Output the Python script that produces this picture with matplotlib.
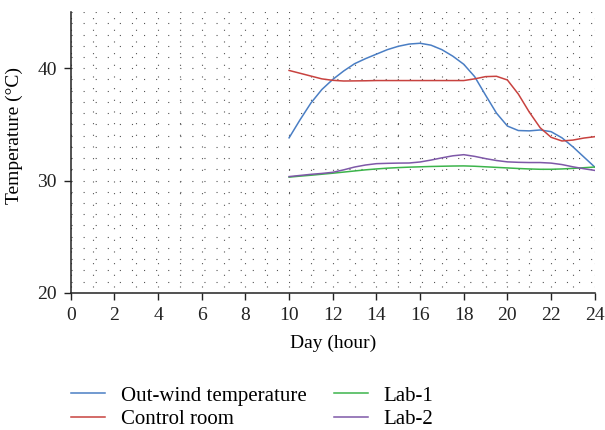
import matplotlib
matplotlib.use('Agg')
import matplotlib.pyplot as plt
from matplotlib.ticker import MultipleLocator

plt.rcParams['font.family'] = ['Liberation Serif', 'DejaVu Serif']
plt.rcParams['lines.scale_dashes'] = False

# valores (a cada meia hora)
horas = [10, 10.5, 11, 11.5, 12, 12.5, 13, 13.5, 14, 14.5, 15, 15.5, 16, 16.5, 17,
         17.5, 18, 18.5, 19, 19.5, 20, 20.5, 21, 21.5, 22, 22.5, 23, 23.5, 24]
out_wind = [33.8, 35.4, 36.9, 38.1, 39.0, 39.75, 40.4, 40.85, 41.25, 41.65, 41.95, 42.15, 42.22, 42.05, 41.65,
            41.07, 40.35, 39.25, 37.6, 36.0, 34.85, 34.45, 34.42, 34.5, 34.35, 33.8, 33.0, 32.1, 31.2]
control = [39.8, 39.55, 39.3, 39.05, 38.92, 38.86, 38.87, 38.88, 38.9, 38.9, 38.9, 38.9, 38.9, 38.9, 38.9,
           38.9, 38.9, 39.05, 39.25, 39.28, 38.95, 37.7, 36.1, 34.7, 33.85, 33.52, 33.6, 33.78, 33.9]
lab1 = [30.3, 30.39, 30.47, 30.56, 30.65, 30.75, 30.85, 30.95, 31.03, 31.1, 31.15, 31.19, 31.22, 31.25, 31.27,
        31.29, 31.3, 31.27, 31.22, 31.17, 31.12, 31.07, 31.03, 31.0, 31.0, 31.03, 31.08, 31.14, 31.2]
lab2 = [30.35, 30.45, 30.55, 30.63, 30.73, 30.95, 31.2, 31.38, 31.5, 31.53, 31.55, 31.56, 31.65, 31.82, 32.02,
        32.2, 32.3, 32.15, 31.95, 31.78, 31.66, 31.62, 31.6, 31.6, 31.55, 31.42, 31.22, 31.05, 30.9]

cores = ['#4a7ec4', '#c8423f', '#3cb44b', '#7e58a8']

fig = plt.figure(figsize=(6.05, 4.3), dpi=100)
ax = fig.add_axes([0.117, 0.319, 0.866, 0.653])

ax.plot(horas, out_wind, color=cores[0], lw=1.1, label='Out-wind temperature')
ax.plot(horas, control, color=cores[1], lw=1.1, label='Control room')
ax.plot(horas, lab1, color=cores[2], lw=1.1, label='Lab-1')
ax.plot(horas, lab2, color=cores[3], lw=1.1, label='Lab-2')

ax.set_xlim(0, 24)
ax.set_ylim(20, 45)
ax.set_xticks(range(0, 25, 2))
ax.set_yticks([20, 30, 40])
ax.xaxis.set_minor_locator(MultipleLocator(1))
ax.yaxis.set_minor_locator(MultipleLocator(1))
ax.tick_params(which='minor', length=0)
ax.tick_params(which='major', direction='out', length=5, width=1, labelsize=14,
               colors='#222222', pad=5)
# grade pontilhada
ax.yaxis.grid(True, which='both', linestyle=(0, (0.8, 7.9)), color='#555555', lw=0.8)
ax.xaxis.grid(True, which='both', linestyle=(4.1, (0.8, 7.6)), color='#555555', lw=0.8)
ax.set_axisbelow(True)

for lado in ['top', 'right']:
    ax.spines[lado].set_visible(False)
for lado in ['left', 'bottom']:
    ax.spines[lado].set_linewidth(1.1)
    ax.spines[lado].set_color('#222222')

ax.set_xlabel('Day (hour)', fontsize=14, labelpad=8)
ax.set_ylabel('Temperature (°C)', fontsize=14)
ax.yaxis.set_label_coords(-0.092, 0.56)

fig.legend(loc='upper left', bbox_to_anchor=(0.117, 0.102), ncol=2, frameon=False,
           fontsize=15, handlelength=1.65, columnspacing=1.3, labelspacing=0.2,
           handletextpad=0.75, borderpad=0, borderaxespad=0)

plt.savefig('out.png', dpi=100)
